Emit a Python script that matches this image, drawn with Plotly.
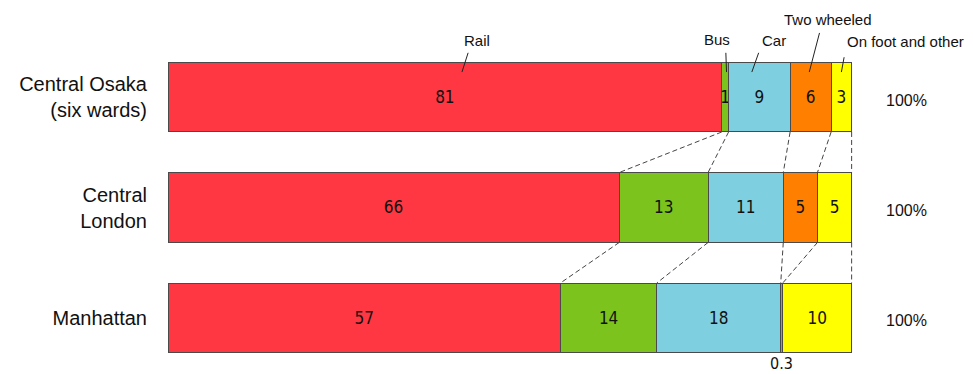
import plotly.graph_objects as go

# Modal share of commuting trips (%) in three central business districts
cities = ["Central Osaka<br>(six wards)", "Central<br>London", "Manhattan"]
modes = ["Rail", "Bus", "Car", "Two wheeled", "On foot and other"]
rail = [81, 66, 57]
bus = [1, 13, 14]
car = [9, 11, 18]
two_wheeled = [6, 5, 0.3]
on_foot = [3, 5, 10]
total_labels = ["100%", "100%", "100%"]

series = [rail, bus, car, two_wheeled, on_foot]
colors = ["#FF3742", "#7DC31E", "#7ECFE0", "#FF8000", "#FFFF00"]

NUM_FONT = "Liberation Sans Narrow, DejaVu Sans Condensed, sans-serif"
TXT_FONT = "Liberation Sans, Arial, sans-serif"
BAR_W = 0.633
ypos = list(range(len(cities)))

fig = go.Figure()

# stacked segments; values under 0.5 are labelled below the bar instead
for name, vals, col in zip(modes, series, colors):
    texts = [f"{v:g}" if v >= 0.5 else "" for v in vals]
    fig.add_trace(go.Bar(
        y=ypos, x=vals, orientation="h", name=name, width=BAR_W,
        marker=dict(color=col, line=dict(color="#4a4a4a", width=1)),
        text=texts, textposition="inside", insidetextanchor="middle",
        textfont=dict(family=NUM_FONT, size=17, color="#111111"),
        hoverinfo="skip", showlegend=False,
    ))

# cumulative boundaries on the normalised (percent) scale
rows = list(zip(*series))
bounds = []
for r in rows:
    tot = sum(r)
    acc, b = 0, []
    for v in r:
        acc += v
        b.append(acc / tot * 100)
    bounds.append(b)

# dashed connectors between matching boundaries of neighbouring bars
half = BAR_W / 2
for i in range(len(rows) - 1):
    xs, ys = [], []
    for a, b in zip(bounds[i], bounds[i + 1]):
        xs += [a, b, None]
        ys += [i + half, i + 1 - half, None]
    fig.add_trace(go.Scatter(
        x=xs, y=ys, mode="lines", hoverinfo="skip", showlegend=False,
        line=dict(color="#444444", width=1, dash="5px,3px"),
    ))

# small-value label under the Manhattan two-wheeled slice
for i, r in enumerate(rows):
    for j, v in enumerate(r):
        if v < 0.5:
            left = bounds[i][j - 1] if j > 0 else 0
            fig.add_annotation(
                x=(left + bounds[i][j]) / 2, y=i + half, yshift=-11,
                text=f"{v:g}", showarrow=False,
                font=dict(family=NUM_FONT, size=16, color="#111111"),
            )

# row totals at the right
for i, lab in enumerate(total_labels):
    fig.add_annotation(
        x=108, y=i, yshift=-3, text=lab, showarrow=False,
        font=dict(family=TXT_FONT, size=16, color="#111111"),
    )

# mode names above the first bar with leader lines
mode_labels = [
    # (text x, text y, leader start x, start y, leader end x, end y)
    (45.2, -0.51, 43.9, -0.40, 43.0, -0.226),
    (80.3, -0.52, 81.6, -0.40, 81.7, -0.226),
    (88.6, -0.51, 86.4, -0.40, 85.4, -0.226),
    (96.5, -0.70, 95.3, -0.58, 93.8, -0.226),
    (107.9, -0.50, 98.9, -0.36, 98.5, -0.226),
]
for name, (tx, ty, x0, y0, x1, y1) in zip(modes, mode_labels):
    fig.add_annotation(
        x=tx, y=ty, text=name, showarrow=False,
        font=dict(family=TXT_FONT, size=15, color="#111111"),
    )
    fig.add_shape(type="line", x0=x0, y0=y0, x1=x1, y1=y1,
                  line=dict(color="#222222", width=1), layer="above")

fig.update_layout(
    width=973, height=374,
    margin=dict(l=168, r=53, t=0, b=0),
    barmode="stack", barnorm="percent",
    plot_bgcolor="rgba(0,0,0,0)", paper_bgcolor="white",
    xaxis=dict(range=[0, 110], visible=False, fixedrange=True),
    yaxis=dict(
        range=[2.507, -0.878], tickvals=ypos, ticktext=cities,
        showgrid=False, zeroline=False, showline=False, ticks="",
        ticklabelstandoff=20,
        tickfont=dict(family=TXT_FONT, size=20, color="#111111"),
    ),
    uniformtext=dict(minsize=17, mode="show"),
    font=dict(family=TXT_FONT),
)

fig.write_html("out.html")
